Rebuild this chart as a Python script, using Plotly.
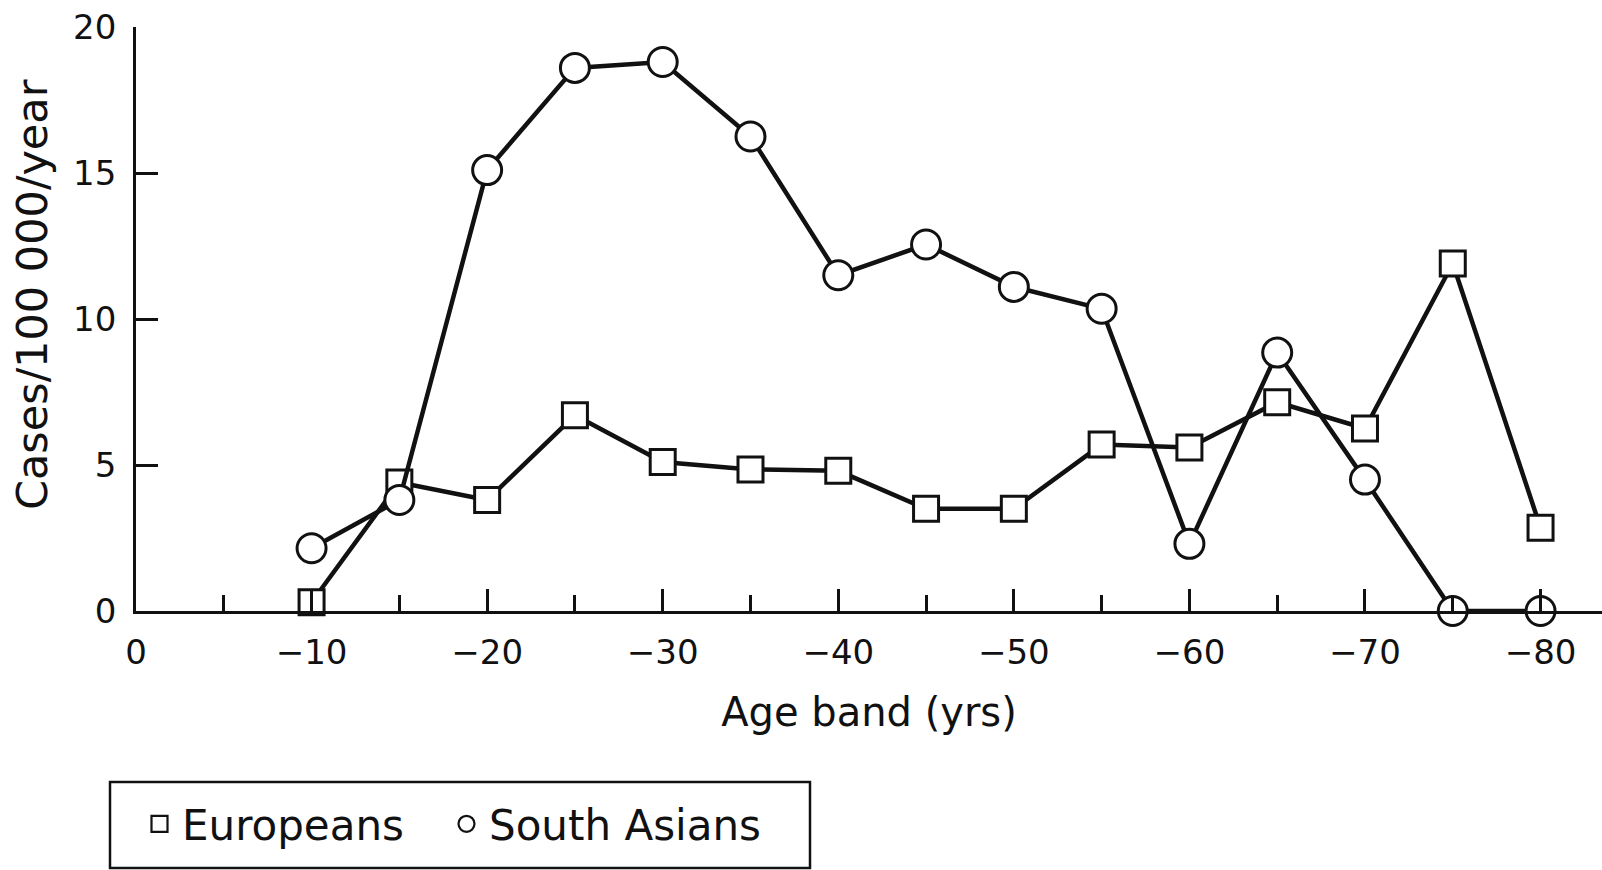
import plotly.graph_objects as go

age_band = [10, 15, 20, 25, 30, 35, 40, 45, 50, 55, 60, 65, 70, 75, 80]
europeans = [0.3, 4.4, 3.8, 6.7, 5.1, 4.85, 4.8, 3.5, 3.5, 5.7, 5.6, 7.15, 6.25, 11.9, 2.85]
south_asians = [2.15, 3.8, 15.1, 18.6, 18.8, 16.25, 11.5, 12.55, 11.1, 10.35, 2.3, 8.85, 4.5, 0.0, 0.0]

x_tickvals = [0, 10, 20, 30, 40, 50, 60, 70, 80]
x_ticktext = ["0", "−10", "−20", "−30", "−40", "−50", "−60", "−70", "−80"]
x_minor = [5, 15, 25, 35, 45, 55, 65, 75]
y_tickvals = [0, 5, 10, 15, 20]

FONT = "DejaVu Sans"
INK = "#111111"

fig = go.Figure()

fig.add_trace(go.Scatter(
    x=age_band, y=europeans, mode="lines+markers", name="Europeans",
    line=dict(color=INK, width=4.5),
    marker=dict(symbol="square", size=25, color="white", line=dict(color=INK, width=3)),
    cliponaxis=False, showlegend=False,
))
fig.add_trace(go.Scatter(
    x=age_band, y=south_asians, mode="lines+markers", name="South Asians",
    line=dict(color=INK, width=4.5),
    marker=dict(symbol="circle", size=29, color="white", line=dict(color=INK, width=3)),
    cliponaxis=False, showlegend=False,
))
# legend entries (marker only, as in the original key)
fig.add_trace(go.Scatter(
    x=[None], y=[None], mode="markers", name="Europeans", legend="legend",
    marker=dict(symbol="square", size=16, color="white", line=dict(color=INK, width=2.2)),
))
fig.add_trace(go.Scatter(
    x=[None], y=[None], mode="markers", name="South Asians", legend="legend2",
    marker=dict(symbol="circle", size=16, color="white", line=dict(color=INK, width=2.2)),
))

legend_common = dict(
    orientation="h", xanchor="left", y=-0.3065, yanchor="top",
    borderwidth=0, font=dict(size=42, family=FONT, color=INK),
    itemwidth=35, itemclick=False, bgcolor="rgba(0,0,0,0)",
)

fig.update_layout(
    width=1602, height=870,
    margin=dict(l=136, r=0, t=27, b=259, autoexpand=False),
    paper_bgcolor="white", plot_bgcolor="white",
    font=dict(family=FONT, color=INK, size=34),
    legend=dict(x=(137 - 136) / 1466, **legend_common),
    legend2=dict(x=(444 - 136) / 1466, **legend_common),
    shapes=[dict(
        type="rect", xref="paper", yref="paper",
        x0=(110 - 136) / 1466, x1=(810 - 136) / 1466,
        y0=(611 - 868) / 584, y1=(611 - 782) / 584,
        line=dict(color=INK, width=2.5), fillcolor="rgba(0,0,0,0)",
    )],
    annotations=[dict(
        text="Cases/100 000/year", textangle=-90, showarrow=False,
        xref="paper", yref="paper", x=(32 - 136) / 1466, y=(611 - 295) / 584,
        xanchor="center", yanchor="middle", font=dict(size=43, family=FONT, color=INK),
    )],
    xaxis=dict(
        range=[0, 83.5], tickvals=x_tickvals, ticktext=x_ticktext,
        showline=True, linecolor=INK, linewidth=2.8, showgrid=False, zeroline=False,
        ticks="inside", ticklen=22, tickwidth=2.5, tickcolor=INK,
        minor=dict(tickvals=x_minor, ticks="inside", ticklen=16, tickwidth=2.5, tickcolor=INK),
        tickfont=dict(size=34), ticklabelstandoff=9,
        title=dict(text="Age band (yrs)", font=dict(size=40), standoff=28),
        automargin=False,
    ),
    yaxis=dict(
        range=[0, 20], tickvals=y_tickvals,
        showline=True, linecolor=INK, linewidth=2.8, showgrid=False, zeroline=False,
        ticks="inside", ticklen=22, tickwidth=2.5, tickcolor=INK,
        tickfont=dict(size=34), ticklabelstandoff=10,
        automargin=False,
    ),
)

fig.write_html("out.html")
